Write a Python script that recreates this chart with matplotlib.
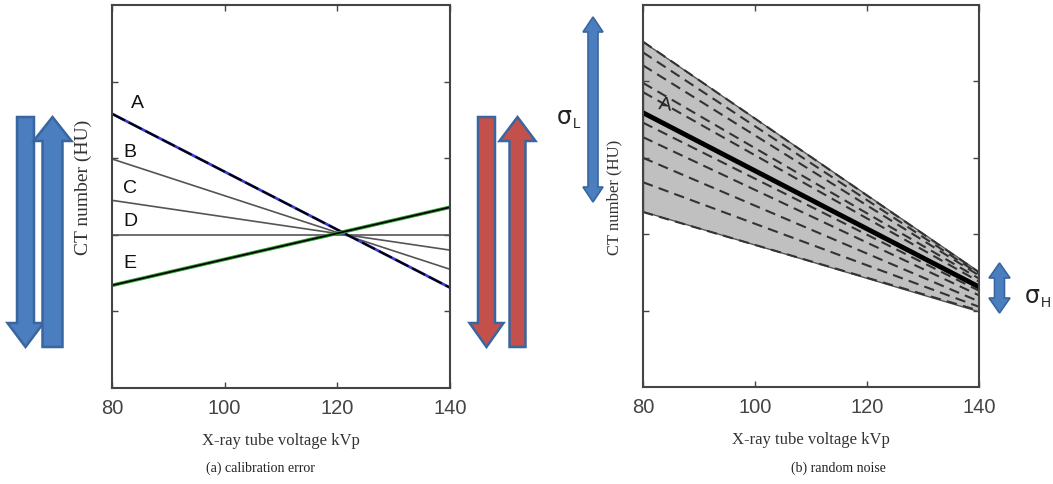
import matplotlib
matplotlib.use("Agg")
import matplotlib.pyplot as plt
from matplotlib.patches import Polygon

# ---- data ----
kvp = [80, 140]
calib_A = [3.58, 1.31]
calib_B = [2.99, 1.55]
calib_C = [2.45, 1.80]
calib_D = [2.00, 2.00]
calib_E = [1.34, 2.36]
calib_labels = ["A", "B", "C", "D", "E"]

noise_upper = [4.52, 1.51]
noise_lower = [2.30, 0.99]
noise_mean = [3.59, 1.31]
noise_trials = [
    [4.52, 1.50],
    [4.38, 1.48],
    [4.21, 1.46],
    [3.98, 1.42],
    [3.86, 1.38],
    [3.46, 1.26],
    [3.27, 1.20],
    [3.00, 1.12],
    [2.68, 1.05],
    [2.29, 1.00],
]

xticks = [80, 100, 120, 140]
yticks = [1, 2, 3, 4]

W, H = 1053, 484
fig = plt.figure(figsize=(W / 100, H / 100), dpi=100)

serif = "Liberation Serif"
sans = "Liberation Sans"
spine_col = "#444444"


def style_axes(ax, ylabel_size):
    ax.set_xlim(80, 140)
    ax.set_ylim(0, 5)
    ax.set_xticks(xticks)
    ax.set_yticks(yticks)
    ax.set_yticklabels([])
    ax.tick_params(direction="in", length=4, width=1, top=True, right=True,
                   colors=spine_col, labelsize=14.5, pad=8)
    for lab in ax.get_xticklabels():
        lab.set_fontfamily(sans)
        lab.set_color("#444444")
    for s in ax.spines.values():
        s.set_color(spine_col)
        s.set_linewidth(1.5)
    ax.set_xlabel("X-ray tube voltage kVp", family=serif, fontsize=12, color="#333333")
    ax.set_ylabel("CT number (HU)", family=serif, fontsize=ylabel_size, color="#333333")


def px_rect(x0, x1, y0, y1):
    return [x0 / W, 1 - y1 / H, (x1 - x0) / W, (y1 - y0) / H]


# ---- (a) calibration error ----
ax1 = fig.add_axes(px_rect(112, 450, 5, 388))
ax1.plot(kvp, calib_B, color="#555555", lw=1.2)
ax1.plot(kvp, calib_C, color="#555555", lw=1.2)
ax1.plot(kvp, calib_D, color="#555555", lw=1.2)
ax1.plot(kvp, calib_A, color="#3a3ad0", lw=2.0)
ax1.plot(kvp, calib_A, color="black", lw=1.5, dashes=(7, 2))
ax1.plot(kvp, calib_E, color="#2e9a2e", lw=2.6)
ax1.plot(kvp, calib_E, color="black", lw=1.2)
style_axes(ax1, 14)
ax1.xaxis.set_label_coords(0.5, -0.1175)
ax1.yaxis.set_label_coords(-0.058, 0.525)

label_pos = [(84.6, 3.71), (83.2, 3.08), (83.2, 2.61), (83.2, 2.17), (83.2, 1.63)]
for lab, (lx, ly) in zip(calib_labels, label_pos):
    ax1.text(lx, ly, lab, family=sans, fontsize=14, ha="center", va="center", color="#111111")

# ---- (b) random noise ----
ax2 = fig.add_axes(px_rect(643, 979, 5, 387))
ax2.fill_between(kvp, noise_lower, noise_upper, facecolor="#c0c0c0",
                 edgecolor="#555555", lw=1.0)
for tr in noise_trials:
    ax2.plot(kvp, tr, color="#333333", lw=1.5, dashes=(5, 3))
ax2.plot(kvp, noise_mean, color="black", lw=3.5)
style_axes(ax2, 12)
ax2.xaxis.set_label_coords(0.5, -0.1175)
ax2.yaxis.set_label_coords(-0.062, 0.496)
ax2.text(84.0, 3.69, "A", family=sans, fontsize=14, ha="center", va="center",
         color="#222222", rotation=-8)

# ---- captions ----
fig.text(260 / W, 1 - 468 / H, "(a) calibration error", family=serif, fontsize=10,
         ha="center", va="center", color="#222222")
fig.text(838 / W, 1 - 468 / H, "(b) random noise", family=serif, fontsize=10,
         ha="center", va="center", color="#222222")

# ---- arrow overlay in pixel coordinates ----
ov = fig.add_axes([0, 0, 1, 1], zorder=5)
ov.set_xlim(0, W)
ov.set_ylim(H, 0)
ov.axis("off")
ov.patch.set_alpha(0)

blue = "#4a7ebf"
blue_edge = "#3a66a0"
red = "#c4504c"


def arrow(cx, y_tail, y_tip, w, hw, hl, fc, ec):
    d = 1 if y_tip > y_tail else -1
    yb = y_tip - d * hl
    pts = [(cx - w / 2, y_tail), (cx + w / 2, y_tail), (cx + w / 2, yb),
           (cx + hw / 2, yb), (cx, y_tip), (cx - hw / 2, yb), (cx - w / 2, yb)]
    ov.add_patch(Polygon(pts, closed=True, facecolor=fc, edgecolor=ec, lw=1.8))


def double_arrow(cx, y_top, y_bot, w, hw, hl, fc, ec):
    pts = [(cx, y_top), (cx + hw / 2, y_top + hl), (cx + w / 2, y_top + hl),
           (cx + w / 2, y_bot - hl), (cx + hw / 2, y_bot - hl), (cx, y_bot),
           (cx - hw / 2, y_bot - hl), (cx - w / 2, y_bot - hl),
           (cx - w / 2, y_top + hl), (cx - hw / 2, y_top + hl)]
    ov.add_patch(Polygon(pts, closed=True, facecolor=fc, edgecolor=ec, lw=1.2))


arrow(25.5, 117, 347, 17, 36, 24, blue, blue_edge)
arrow(52.5, 347, 117, 20, 38, 24, blue, blue_edge)
arrow(486.5, 117, 347, 17, 34, 24, red, blue_edge)
arrow(517.5, 347, 117, 16, 36, 24, red, blue_edge)

double_arrow(593, 17, 202, 10, 20, 15, blue, blue_edge)
double_arrow(999.5, 263, 313, 10, 21, 15, blue, blue_edge)

# noise spread labels (upright sigma with small subscript)
ov.text(572, 117, "σ", family="DejaVu Sans", fontsize=17, ha="right", va="center",
        color="#222222")
ov.text(573, 124, "L", family=sans, fontsize=10, ha="left", va="center",
        color="#222222")
ov.text(1040, 296, "σ", family="DejaVu Sans", fontsize=17, ha="right", va="center",
        color="#222222")
ov.text(1041, 303, "H", family=sans, fontsize=10, ha="left", va="center",
        color="#222222")

fig.savefig("out.png", dpi=100)
